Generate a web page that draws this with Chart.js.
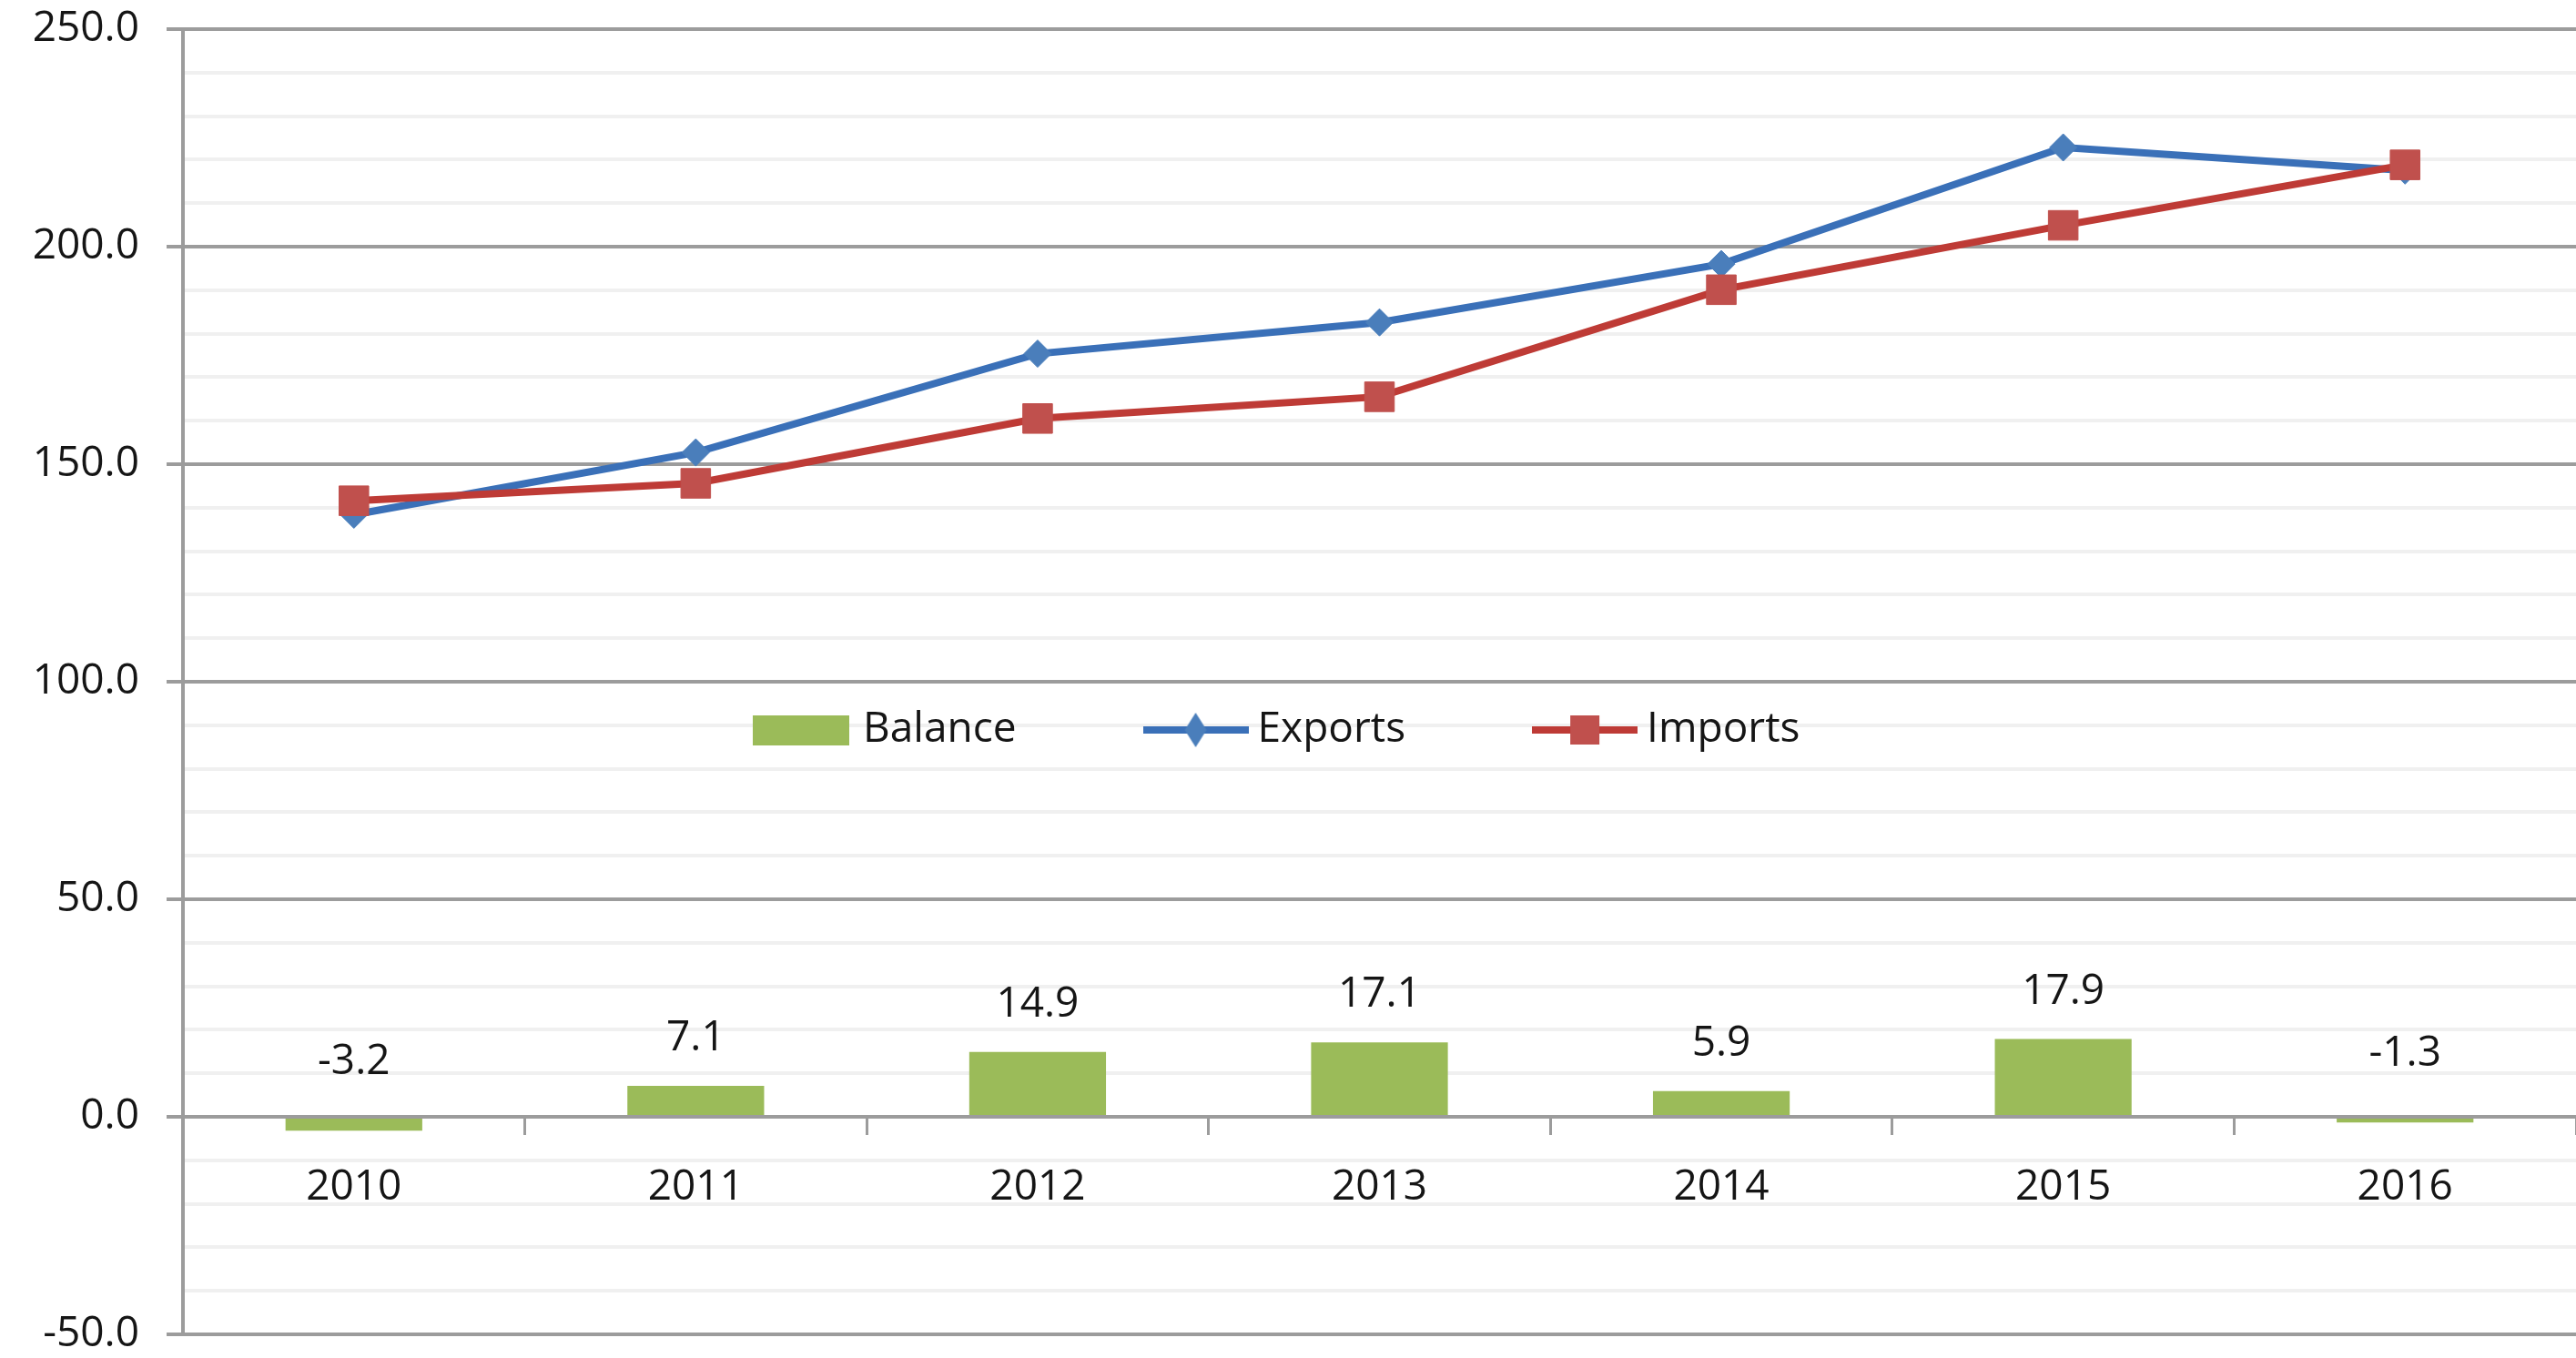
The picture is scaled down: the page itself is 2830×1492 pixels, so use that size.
<!DOCTYPE html>
<html>
<head>
<meta charset="utf-8">
<title>Trade balance</title>
<script src="https://cdn.jsdelivr.net/npm/chart.js@4.4.0/dist/chart.umd.min.js"></script>
<style>
html, body { margin: 0; padding: 0; background: #fff; }
canvas { display: block; }
</style>
</head>
<body>
<canvas id="tradeChart" width="2830" height="1492"></canvas>
<script>
// ---------------- data ----------------
const years = ["2010", "2011", "2012", "2013", "2014", "2015", "2016"];
const exportsValues = [138.4, 152.7, 175.4, 182.6, 196.0, 222.8, 217.5];
const importsValues = [141.6, 145.6, 160.5, 165.5, 190.1, 204.9, 218.8];
const balanceValues = [-3.2, 7.1, 14.9, 17.1, 5.9, 17.9, -1.3];

const yMin = -50;
const yMax = 250;
const yMinorStep = 10;
const yMajorStep = 50;

// ---------------- styles ----------------
const FONT = "'Open Sans', 'Liberation Sans', sans-serif";
const TEXT = "#151515";
const GREEN = "#9BBB59";
const BLUE_LINE = "#3A70B8";
const BLUE_MARK = "#4A7EBB";
const RED_LINE = "#BE3B36";
const RED_MARK = "#C0504D";
const MAJOR_GRID = "#9c9c9c";
const MINOR_GRID = "#f0f0f0";

Chart.defaults.font.family = FONT;
Chart.defaults.font.size = 46;
Chart.defaults.color = TEXT;

// legend icons (line + marker like the original)
function makeIcon(w, h, draw) {
    const c = document.createElement("canvas");
    c.width = w;
    c.height = h;
    draw(c.getContext("2d"), w, h);
    return c;
}

const legendIcons = [
    makeIcon(106, 33, (g, w, h) => {
        g.fillStyle = GREEN;
        g.fillRect(0, 0, w, h);
    }),
    makeIcon(116, 40, (g, w, h) => {
        g.strokeStyle = BLUE_LINE;
        g.lineWidth = 8;
        g.beginPath();
        g.moveTo(0, h / 2);
        g.lineTo(w, h / 2);
        g.stroke();
        g.fillStyle = BLUE_MARK;
        g.beginPath();
        g.moveTo(w / 2, 1);
        g.lineTo(w / 2 + 12, h / 2);
        g.lineTo(w / 2, h - 1);
        g.lineTo(w / 2 - 12, h / 2);
        g.closePath();
        g.fill();
    }),
    makeIcon(116, 40, (g, w, h) => {
        g.strokeStyle = RED_LINE;
        g.lineWidth = 8;
        g.beginPath();
        g.moveTo(0, h / 2);
        g.lineTo(w, h / 2);
        g.stroke();
        g.fillStyle = RED_MARK;
        g.fillRect(w / 2 - 16, h / 2 - 16, 32, 32);
    })
];

// move the legend into the middle of the plot, like the Excel original
const legendInPlot = {
    id: "legendInPlot",
    afterLayout(chart) {
        const lg = chart.legend;
        const pad = lg.options.labels.padding;
        lg.left = 835 - pad;
        lg.right = chart.width * 3;
        lg.width = lg.right - lg.left;
        lg.top = 779 - pad;
        lg.height = pad + 120;
        lg.bottom = lg.top + lg.height;
    }
};

// value labels above the balance bars
const barValueLabels = {
    id: "barValueLabels",
    afterDatasetsDraw(chart) {
        const meta = chart.getDatasetMeta(0);
        const ctx = chart.ctx;
        ctx.save();
        ctx.font = "46px " + FONT;
        ctx.fillStyle = TEXT;
        ctx.textAlign = "center";
        ctx.textBaseline = "middle";
        meta.data.forEach((bar, i) => {
            const v = balanceValues[i];
            ctx.fillText(v.toFixed(1), bar.x, bar.y - (v >= 0 ? 52 : 75));
        });
        ctx.restore();
    }
};

const isMajor = (c) => c.tick && c.tick.value % yMajorStep === 0;

new Chart(document.getElementById("tradeChart"), {
    type: "bar",
    data: {
        labels: years,
        datasets: [
            {
                type: "bar",
                label: "Balance",
                data: balanceValues,
                backgroundColor: GREEN,
                barPercentage: 0.4,
                categoryPercentage: 1,
                order: 2
            },
            {
                type: "line",
                label: "Exports",
                data: exportsValues,
                borderColor: BLUE_LINE,
                borderWidth: 8,
                tension: 0,
                fill: false,
                pointStyle: "rectRot",
                pointRadius: 15,
                pointBackgroundColor: BLUE_MARK,
                pointBorderColor: BLUE_MARK,
                pointBorderWidth: 1,
                order: 1
            },
            {
                type: "line",
                label: "Imports",
                data: importsValues,
                borderColor: RED_LINE,
                borderWidth: 8,
                tension: 0,
                fill: false,
                pointStyle: "rect",
                pointRadius: 23,
                pointBackgroundColor: RED_MARK,
                pointBorderColor: RED_MARK,
                pointBorderWidth: 1,
                order: 0
            }
        ]
    },
    options: {
        responsive: false,
        animation: false,
        layout: {
            autoPadding: false,
            padding: { top: 31, right: 0, bottom: 26, left: 0 }
        },
        scales: {
            x: {
                position: { y: 0 },
                offset: true,
                afterFit: (s) => { s.paddingLeft = 0; s.paddingRight = 0; },
                border: { display: false },
                grid: {
                    offset: true,
                    drawOnChartArea: false,
                    drawTicks: true,
                    tickLength: 20,
                    color: MAJOR_GRID,
                    lineWidth: 3
                },
                ticks: {
                    padding: 30,
                    maxRotation: 0,
                    color: TEXT
                }
            },
            y: {
                min: yMin,
                max: yMax,
                afterFit: (s) => { s.width = 201; s.paddingTop = 0; s.paddingBottom = 0; },
                border: { color: MAJOR_GRID, width: 4 },
                grid: {
                    color: (c) => isMajor(c) ? MAJOR_GRID : MINOR_GRID,
                    lineWidth: 4,
                    tickLength: 18,
                    tickColor: (c) => isMajor(c) ? MAJOR_GRID : "rgba(0,0,0,0)"
                },
                ticks: {
                    stepSize: yMinorStep,
                    autoSkip: false,
                    padding: 30,
                    color: TEXT,
                    callback: (v) => v % yMajorStep === 0 ? v.toFixed(1) : ""
                }
            }
        },
        plugins: {
            tooltip: { enabled: false },
            legend: {
                maxHeight: 1,
                align: "start",
                labels: {
                    usePointStyle: true,
                    pointStyleWidth: 90,
                    boxHeight: 33,
                    padding: 152,
                    color: TEXT,
                    sort: (a, b) => a.datasetIndex - b.datasetIndex,
                    generateLabels: (chart) => {
                        const items = Chart.defaults.plugins.legend.labels.generateLabels(chart);
                        items.forEach((it) => { it.pointStyle = legendIcons[it.datasetIndex]; });
                        return items;
                    }
                }
            }
        }
    },
    plugins: [legendInPlot, barValueLabels]
});
</script>
</body>
</html>
